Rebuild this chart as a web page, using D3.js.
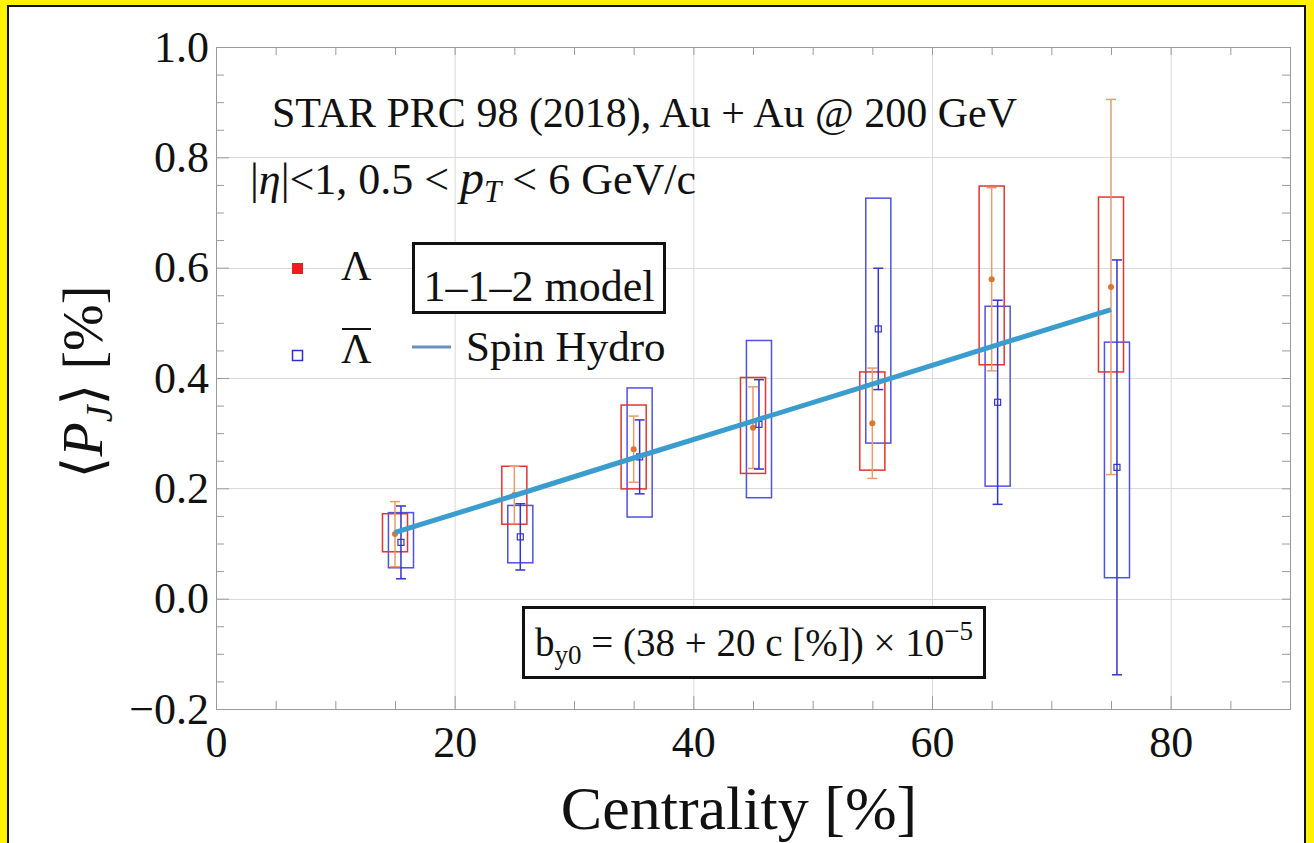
<!DOCTYPE html>
<html>
<head>
<meta charset="utf-8">
<script src="https://cdn.jsdelivr.net/npm/d3@7"></script>
<style>
  body { margin: 0; background: #fff200; }
  svg { display: block; }
  text { font-family: "Liberation Serif", "DejaVu Serif", serif; fill: #111; }
</style>
</head>
<body>
<svg id="chart" width="1314" height="843"></svg>
<script>
// Centrality bins (%)
const centrality = [15, 25, 35, 45, 55, 65, 75];

// Lambda polarization <P_J> [%]: central value, statistical error, systematic band
const lambdaValue   = [0.117, 0.188, 0.271, 0.310, 0.318, 0.579, 0.565];
const lambdaStat    = [0.059, 0.052, 0.060, 0.074, 0.100, 0.166, 0.340];
const lambdaSysLow  = [0.085, 0.135, 0.199, 0.227, 0.233, 0.424, 0.411];
const lambdaSysHigh = [0.154, 0.240, 0.351, 0.401, 0.411, 0.748, 0.728];

// Anti-Lambda polarization <P_J> [%]
const antiValue   = [0.102, 0.112, 0.257, 0.316, 0.489, 0.356, 0.238];
const antiStat    = [0.066, 0.060, 0.067, 0.081, 0.110, 0.185, 0.376];
const antiSysLow  = [0.056, 0.065, 0.148, 0.183, 0.282, 0.204, 0.038];
const antiSysHigh = [0.156, 0.169, 0.382, 0.468, 0.726, 0.530, 0.465];

// Spin hydro (1-1-2 model) prediction at each bin
const hydroValue = [0.120, 0.187, 0.255, 0.322, 0.389, 0.457, 0.524];

// Axis ticks
const xMajor = [0, 20, 40, 60, 80];
const xMinor = d3.range(0, 91, 5);
const yMajor = [-0.2, 0.0, 0.2, 0.4, 0.6, 0.8, 1.0];
const yMinor = d3.range(-0.2, 1.0001, 0.05).map(v => +v.toFixed(2));

const svg = d3.select("#chart");
const W = 1314, H = 843;
const plot = { left: 216, right: 1290, top: 47, bottom: 709 };

const x = d3.scaleLinear().domain([0, 90]).range([plot.left, plot.right]);
const y = d3.scaleLinear().domain([-0.2, 1.0]).range([plot.bottom, plot.top]);

// page frame
svg.append("rect").attr("x", 0).attr("y", 0).attr("width", W).attr("height", H).attr("fill", "#fff200");
svg.append("rect").attr("x", 8).attr("y", 6).attr("width", 1297).attr("height", 860)
  .attr("fill", "#fff").attr("stroke", "#111").attr("stroke-width", 2);

// grid lines
const grid = svg.append("g").attr("stroke", "#dadada").attr("stroke-width", 1);
grid.selectAll("line.gx").data(xMajor.filter(v => v > 0)).join("line")
  .attr("x1", d => x(d) + 0.5).attr("x2", d => x(d) + 0.5)
  .attr("y1", plot.top).attr("y2", plot.bottom);
grid.selectAll("line.gy").data(yMajor.filter(v => v > -0.2 && v < 1.0)).join("line")
  .attr("y1", d => Math.round(y(d)) + 0.5).attr("y2", d => Math.round(y(d)) + 0.5)
  .attr("x1", plot.left).attr("x2", plot.right);

const boxHalf = 1.05;     // half width of systematic boxes, in centrality units
const antiShift = 0.5;    // anti-Lambda drawn slightly to the right

const colors = {
  lamBox: "#e5352c", lamBar: "#ec9a6a", lamDot: "#dd7530",
  antiBox: "#5050e4", antiBar: "#3434cc", hydro: "#3b9cce"
};

const data = centrality.map((c, i) => ({
  c,
  lv: lambdaValue[i], ls: lambdaStat[i], llo: lambdaSysLow[i], lhi: lambdaSysHigh[i],
  av: antiValue[i], as: antiStat[i], alo: antiSysLow[i], ahi: antiSysHigh[i]
}));

const marks = svg.append("g");

// systematic boxes
marks.selectAll("rect.abox").data(data).join("rect")
  .attr("x", d => x(d.c + antiShift - boxHalf)).attr("width", d => x(d.c + antiShift + boxHalf) - x(d.c + antiShift - boxHalf))
  .attr("y", d => y(d.ahi)).attr("height", d => y(d.alo) - y(d.ahi))
  .attr("fill", "none").attr("stroke", colors.antiBox).attr("stroke-width", 1.5);
marks.selectAll("rect.lbox").data(data).join("rect")
  .attr("x", d => x(d.c - boxHalf)).attr("width", d => x(d.c + boxHalf) - x(d.c - boxHalf))
  .attr("y", d => y(d.lhi)).attr("height", d => y(d.llo) - y(d.lhi))
  .attr("fill", "none").attr("stroke", colors.lamBox).attr("stroke-width", 1.5);

// statistical error bars
function errorBars(sel, xs, val, err, color, width) {
  const g = sel.append("g").attr("stroke", color).attr("stroke-width", width);
  g.selectAll("line.v").data(data).join("line")
    .attr("x1", d => x(xs(d))).attr("x2", d => x(xs(d)))
    .attr("y1", d => y(val(d) + err(d))).attr("y2", d => y(val(d) - err(d)));
  g.selectAll("line.t").data(data).join("line")
    .attr("x1", d => x(xs(d)) - 5).attr("x2", d => x(xs(d)) + 5)
    .attr("y1", d => y(val(d) + err(d))).attr("y2", d => y(val(d) + err(d)));
  g.selectAll("line.b").data(data).join("line")
    .attr("x1", d => x(xs(d)) - 5).attr("x2", d => x(xs(d)) + 5)
    .attr("y1", d => y(val(d) - err(d))).attr("y2", d => y(val(d) - err(d)));
}
errorBars(marks, d => d.c, d => d.lv, d => d.ls, colors.lamBar, 1.5);
errorBars(marks, d => d.c + antiShift, d => d.av, d => d.as, colors.antiBar, 1.5);

// markers
marks.selectAll("circle.lam").data(data).join("circle")
  .attr("cx", d => x(d.c)).attr("cy", d => y(d.lv)).attr("r", 3)
  .attr("fill", colors.lamDot);
marks.selectAll("rect.anti").data(data).join("rect")
  .attr("x", d => x(d.c + antiShift) - 3).attr("y", d => y(d.av) - 3)
  .attr("width", 6).attr("height", 6)
  .attr("fill", "none").attr("stroke", colors.antiBar).attr("stroke-width", 1.2);

// spin hydro curve
const hydroLine = d3.line().x((d, i) => x(centrality[i])).y(d => y(d));
svg.append("path").datum(hydroValue).attr("d", hydroLine)
  .attr("fill", "none").attr("stroke", colors.hydro).attr("stroke-width", 5).attr("stroke-linecap", "butt");

// frame with inward ticks on all four sides
const axisColor = "#9a9a9a";
const fmtY = d3.format(".1f");
function styleAxis(g) {
  g.select(".domain").attr("stroke", axisColor);
  g.selectAll(".tick line").attr("stroke", axisColor);
  g.selectAll(".tick text").attr("fill", "#111").style("font-size", "44px")
    .style("font-family", "'Liberation Serif','DejaVu Serif',serif");
}
svg.append("g").attr("transform", `translate(0,${plot.bottom})`)
  .call(d3.axisBottom(x).tickValues(xMinor.filter(v => !xMajor.includes(v))).tickSize(-8).tickFormat(""))
  .call(styleAxis);
svg.append("g").attr("transform", `translate(0,${plot.bottom})`)
  .call(d3.axisBottom(x).tickValues(xMajor).tickSize(-13).tickPadding(17).tickFormat(d3.format("d")))
  .call(styleAxis);
svg.append("g").attr("transform", `translate(0,${plot.top})`)
  .call(d3.axisTop(x).tickValues(xMinor).tickSize(-8).tickFormat(""))
  .call(styleAxis);
svg.append("g").attr("transform", `translate(${plot.left},0)`)
  .call(d3.axisLeft(y).tickValues(yMinor.filter(v => !yMajor.some(m => Math.abs(m - v) < 1e-9))).tickSize(-8).tickFormat(""))
  .call(styleAxis);
svg.append("g").attr("transform", `translate(${plot.left},0)`)
  .call(d3.axisLeft(y).tickValues(yMajor).tickSize(-13).tickPadding(7).tickFormat(fmtY))
  .call(styleAxis);
svg.append("g").attr("transform", `translate(${plot.right},0)`)
  .call(d3.axisRight(y).tickValues(yMinor).tickSize(-8).tickFormat(""))
  .call(styleAxis);

// axis titles
svg.append("text").attr("x", 739).attr("y", 829).attr("text-anchor", "middle")
  .style("font-size", "62px").text("Centrality [%]");

const yt = svg.append("text").attr("transform", "translate(102,382) rotate(-90)")
  .attr("text-anchor", "middle").style("font-size", "56px");
yt.append("tspan").text("⟨");
yt.append("tspan").style("font-style", "italic").text("P");
yt.append("tspan").style("font-style", "italic").style("font-size", "38px").attr("dy", 10).text("J");
yt.append("tspan").attr("dy", -10).text("⟩ [%]");

// annotations
svg.append("text").attr("x", 272).attr("y", 127).style("font-size", "42px")
  .text("STAR PRC 98 (2018), Au + Au @ 200 GeV");

const cut = svg.append("text").attr("x", 250).attr("y", 194).style("font-size", "44px");
cut.append("tspan").text("|");
cut.append("tspan").style("font-style", "italic").text("η");
cut.append("tspan").text("|<1, 0.5 < ");
cut.append("tspan").style("font-style", "italic").style("font-size", "48px").text("p");
cut.append("tspan").style("font-style", "italic").style("font-size", "31px").attr("dy", 8).text("T");
cut.append("tspan").attr("dy", -8).text(" < 6 GeV/c");

// particle legend
svg.append("rect").attr("x", 292).attr("y", 263).attr("width", 11).attr("height", 11).attr("fill", "#ee1c1c");
svg.append("rect").attr("x", 292.5).attr("y", 350.5).attr("width", 10).attr("height", 10)
  .attr("fill", "none").attr("stroke", "#2d2dd8").attr("stroke-width", 1.5);
svg.append("text").attr("x", 341).attr("y", 280).style("font-size", "42px").text("Λ");
const abar = svg.append("text").attr("x", 341).attr("y", 363).style("font-size", "42px").text("Λ");
const bb = abar.node().getBBox();
svg.append("line").attr("x1", bb.x + 1).attr("x2", bb.x + bb.width - 1)
  .attr("y1", 329).attr("y2", 329).attr("stroke", "#111").attr("stroke-width", 2);

// model legend
svg.append("rect").attr("x", 413.5).attr("y", 243.5).attr("width", 251).attr("height", 69)
  .attr("fill", "#fff").attr("stroke", "#111").attr("stroke-width", 3);
svg.append("text").attr("x", 539).attr("y", 301).attr("text-anchor", "middle")
  .style("font-size", "44px").text("1–1–2 model");
svg.append("line").attr("x1", 412).attr("x2", 451).attr("y1", 347).attr("y2", 347)
  .attr("stroke", "#6a8fc2").attr("stroke-width", 3);
svg.append("text").attr("x", 466).attr("y", 361).style("font-size", "43px").text("Spin Hydro");

// parameterisation box
svg.append("rect").attr("x", 523.5).attr("y", 607.5).attr("width", 461).attr("height", 70)
  .attr("fill", "#fff").attr("stroke", "#111").attr("stroke-width", 3);
const f = svg.append("text").attr("x", 535).attr("y", 656).style("font-size", "39px");
f.append("tspan").text("b");
f.append("tspan").style("font-size", "27px").attr("dy", 8).text("y0");
f.append("tspan").attr("dy", -8).text(" = (38 + 20 c [%]) × 10");
f.append("tspan").style("font-size", "27px").attr("dy", -16).text("−5");
</script>
</body>
</html>
